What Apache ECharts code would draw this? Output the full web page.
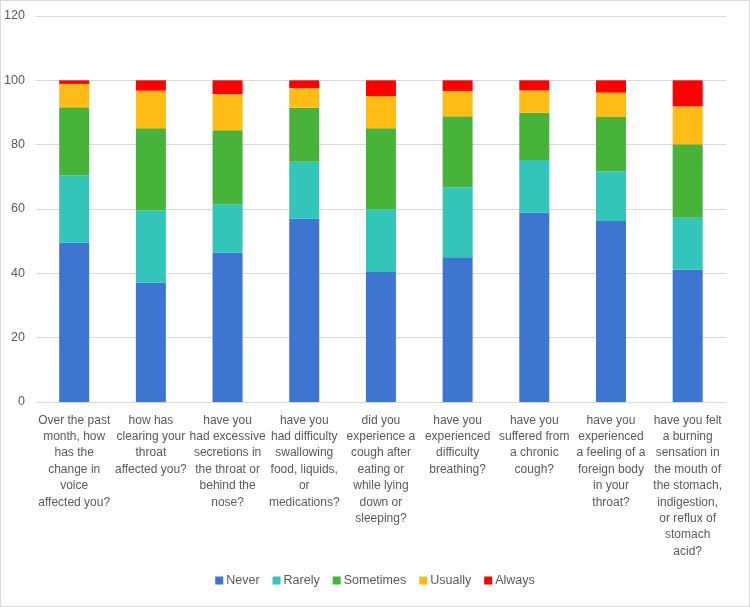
<!DOCTYPE html>
<html>
<head>
<meta charset="utf-8">
<script src="https://cdn.jsdelivr.net/npm/echarts@6/dist/echarts.min.js"></script>
<style>
  html, body { margin: 0; padding: 0; background: #fff; }
  #chart { width: 750px; height: 607px; box-sizing: border-box; border: 1px solid #d9d9d9; }
</style>
</head>
<body>
<div id="chart"></div>
<script>
// question labels, broken the way they wrap in the picture
var categories = [
  "Over the past\nmonth, how\nhas the\nchange in\nvoice\naffected you?",
  "how has\nclearing your\nthroat\naffected you?",
  "have you\nhad excessive\nsecretions in\nthe throat or\nbehind the\nnose?",
  "have you\nhad difficulty\nswallowing\nfood, liquids,\nor\nmedications?",
  "did you\nexperience a\ncough after\neating or\nwhile lying\ndown or\nsleeping?",
  "have you\nexperienced\ndifficulty\nbreathing?",
  "have you\nsuffered from\na chronic\ncough?",
  "have you\nexperienced\na feeling of a\nforeign body\nin your\nthroat?",
  "have you felt\na burning\nsensation in\nthe mouth of\nthe stomach,\nindigestion,\nor reflux of\nstomach\nacid?"
];
var seriesNames = ["Never", "Rarely", "Sometimes", "Usually", "Always"];
var never     = [49.5, 37.1, 46.5, 57.0, 40.4, 45.0, 58.9, 56.3, 41.1];
var rarely    = [21.0, 22.5, 15.0, 17.7, 19.5, 21.8, 16.3, 15.4, 16.2];
var sometimes = [21.1, 25.5, 23.0, 16.8, 25.2, 22.0, 14.7, 16.9, 22.8];
var usually   = [7.3, 11.7, 11.2, 6.1, 10.0, 7.9, 7.0, 7.6, 11.8];
var always    = [1.1, 3.2, 4.3, 2.4, 4.9, 3.3, 3.1, 3.8, 8.1];
var colors = ["#3d75d1", "#33c4ba", "#47b33b", "#ffbc17", "#ff0000"];

var font = "'Liberation Sans', Arial, sans-serif";
var myChart = echarts.init(document.getElementById("chart"));

var values = [never, rarely, sometimes, usually, always];
var series = [];
for (var i = 0; i < seriesNames.length; i++) {
  series.push({
    name: seriesNames[i],
    type: "bar",
    stack: "total",
    barWidth: 30,
    itemStyle: { color: colors[i] },
    data: values[i]
  });
}

var option = {
  animation: false,
  color: colors,
  textStyle: { fontFamily: font },
  grid: { left: 33, right: 23, top: 15, bottom: 204 },
  legend: {
    bottom: 14,
    left: "center",
    itemWidth: 8,
    itemHeight: 8,
    itemGap: 13,
    icon: "rect",
    textStyle: { color: "#595959", fontSize: 12.5, fontFamily: font, padding: [0, 0, 0, -2] },
    data: seriesNames
  },
  xAxis: {
    type: "category",
    data: categories,
    axisLine: { lineStyle: { color: "#d9d9d9" } },
    axisTick: { show: false },
    axisLabel: {
      interval: 0,
      color: "#595959",
      fontSize: 12,
      lineHeight: 16.4,
      margin: 10,
      fontFamily: font
    }
  },
  yAxis: {
    type: "value",
    min: 0,
    max: 120,
    interval: 20,
    axisLine: { show: false },
    axisTick: { show: false },
    splitLine: { lineStyle: { color: "#d9d9d9" } },
    axisLabel: { color: "#595959", fontSize: 12.5, margin: 11, fontFamily: font }
  },
  series: series
};

myChart.setOption(option);
</script>
</body>
</html>
